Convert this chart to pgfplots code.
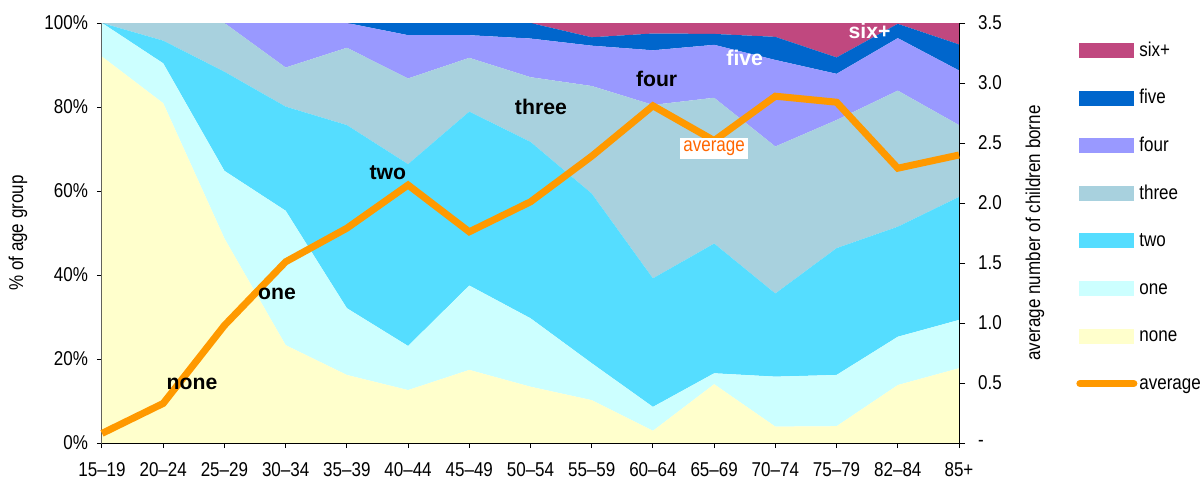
\documentclass[border=0pt]{standalone}
\usepackage{fontspec}
\setmainfont{Liberation Sans}[FakeStretch=0.85]
\newfontfamily\lblfont{Liberation Sans}
\usepackage{pgfplots}
\usepackage{pgfplotstable}
\pgfplotsset{compat=1.18}

\definecolor{csix}{HTML}{C0487F}
\definecolor{cfive}{HTML}{0066CC}
\definecolor{cfour}{HTML}{9999FF}
\definecolor{cthree}{HTML}{A8D1DE}
\definecolor{ctwo}{HTML}{55DDFF}
\definecolor{cone}{HTML}{CCFFFF}
\definecolor{cnone}{HTML}{FFFFCC}
\definecolor{cavg}{HTML}{FF9900}
\definecolor{cavgtxt}{HTML}{FF6600}

\pgfplotstableread{
x none one two three four five six avg
0 92.0 8.0 0.0 0.0 0.0 0.0 0.0 0.08
1 80.9 9.5 5.4 4.2 0.0 0.0 0.0 0.33
2 48.7 16.1 23.6 11.6 0.0 0.0 0.0 0.98
3 23.3 32.0 24.8 9.3 10.6 0.0 0.0 1.51
4 16.2 15.9 43.6 18.4 5.9 0.0 0.0 1.79
5 12.6 10.5 43.3 20.4 10.3 2.9 0.0 2.15
6 17.4 20.1 41.4 12.8 5.4 2.9 0.0 1.76
7 13.4 16.3 42.0 15.4 9.2 3.7 0.0 2.01
8 10.2 8.8 40.4 25.6 9.6 2.0 3.4 2.39
9 2.9 5.7 30.6 41.3 13.0 4.0 2.5 2.81
10 14.0 2.6 30.9 34.7 12.6 2.6 2.6 2.52
11 3.9 11.9 19.8 35.0 20.6 5.5 3.3 2.89
12 4.0 12.2 30.2 30.5 11.0 3.9 8.2 2.84
13 13.8 11.5 26.2 32.4 12.5 3.4 0.2 2.29
14 17.8 11.5 29.3 17.1 13.0 6.2 5.1 2.40
}\data

\newcommand{\fs}{\fontsize{10}{12}\selectfont}
\newcommand{\lbl}{\lblfont\bfseries\fontsize{10.6}{12}\selectfont}

\begin{document}
\begin{tikzpicture}
\useasboundingbox (-51pt,-18pt) rectangle (549pt,221.5pt);
\begin{axis}[
  scale only axis, width=428.5pt, height=210pt,
  xmin=0, xmax=14, ymin=0, ymax=100,
  stack plots=y,
  axis line style={gray!60!black, line width=0.5pt},
  tick align=outside, major tick length=2.5pt,
  tick style={black, line width=0.5pt},
  xtick pos=bottom, ytick pos=left,
  xtick={0,...,14},
  xticklabels={15--19,20--24,25--29,30--34,35--39,40--44,45--49,50--54,55--59,60--64,65--69,70--74,75--79,82--84,85+},
  ytick={0,20,40,60,80,100},
  yticklabels={0\%,20\%,40\%,60\%,80\%,100\%},
  xticklabel style={font=\fs, yshift=-6pt, inner ysep=1pt},
  yticklabel style={font=\fs, xshift=-1pt},
  ylabel={\% of age group},
  ylabel style={font=\fs, at={(axis description cs:-0.098,0.5)}, anchor=center},
  clip=false,
]
\addplot[fill=cnone, draw=none] table[x=x,y=none]{\data} \closedcycle;
\addplot[fill=cone, draw=none] table[x=x,y=one]{\data} \closedcycle;
\addplot[fill=ctwo, draw=none] table[x=x,y=two]{\data} \closedcycle;
\addplot[fill=cthree, draw=none] table[x=x,y=three]{\data} \closedcycle;
\addplot[fill=cfour, draw=none] table[x=x,y=four]{\data} \closedcycle;
\addplot[fill=cfive, draw=none] table[x=x,y=five]{\data} \closedcycle;
\addplot[fill=csix, draw=none] table[x=x,y=six]{\data} \closedcycle;
\end{axis}
\begin{axis}[
  scale only axis, width=428.5pt, height=210pt,
  xmin=0, xmax=14, ymin=0, ymax=3.5,
  axis y line*=right, axis x line*=bottom,
  axis line style={black, line width=0.5pt},
  tick align=outside, major tick length=3pt,
  tick style={black, line width=0.5pt},
  xtick=\empty,
  ytick={0,0.5,1,1.5,2,2.5,3,3.5},
  yticklabels={-,0.5,1.0,1.5,2.0,2.5,3.0,3.5},
  yticklabel style={font=\fs, xshift=3pt},
  ylabel={average number of children borne},
  ylabel style={font=\fs, at={(axis description cs:1.0887,0.5)}, anchor=center, rotate=0},
  clip=false,
  legend style={at={(axis description cs:1.1365,0.962)}, anchor=north west,
    draw=none, fill=none, font=\fs, inner sep=0pt, row sep=12.8pt,
    nodes={inner sep=1pt, anchor=west, text height=7.5pt, text depth=1.5pt}},
  legend cell align=left,
]
\addlegendimage{legend image code/.code={\fill[csix] (0pt,-3.5pt) rectangle (27pt,3.5pt);}}
\addlegendentry{six+}
\addlegendimage{legend image code/.code={\fill[cfive] (0pt,-3.5pt) rectangle (27pt,3.5pt);}}
\addlegendentry{five}
\addlegendimage{legend image code/.code={\fill[cfour] (0pt,-3.5pt) rectangle (27pt,3.5pt);}}
\addlegendentry{four}
\addlegendimage{legend image code/.code={\fill[cthree] (0pt,-3.5pt) rectangle (27pt,3.5pt);}}
\addlegendentry{three}
\addlegendimage{legend image code/.code={\fill[ctwo] (0pt,-3.5pt) rectangle (27pt,3.5pt);}}
\addlegendentry{two}
\addlegendimage{legend image code/.code={\fill[cone] (0pt,-3.5pt) rectangle (27pt,3.5pt);}}
\addlegendentry{one}
\addlegendimage{legend image code/.code={\fill[cnone] (0pt,-3.5pt) rectangle (27pt,3.5pt);}}
\addlegendentry{none}
\addplot[cavg, line width=3.5pt, line join=miter,
  legend image code/.code={\draw[cavg, line width=3.5pt, line cap=round] (0pt,0pt) -- (27pt,0pt);}]
  table[x=x,y=avg]{\data};
\addlegendentry{average}
\node[font=\lbl, anchor=base] at (axis cs:1.47,0.45) {none};
\node[font=\lbl, anchor=base] at (axis cs:2.86,1.20) {one};
\node[font=\lbl, anchor=base] at (axis cs:4.67,2.20) {two};
\node[font=\lbl, anchor=base] at (axis cs:7.17,2.735) {three};
\node[font=\lbl, anchor=base] at (axis cs:9.06,2.975) {four};
\node[font=\lbl, anchor=base, text=white] at (axis cs:10.5,3.143) {five};
\node[font=\lbl, anchor=base, text=white] at (axis cs:12.54,3.374) {six+};
\node[font=\fs, anchor=base, text=cavgtxt, fill=white, inner sep=1.5pt] at (axis cs:10.0,2.43) {average};
\end{axis}
\end{tikzpicture}
\end{document}
